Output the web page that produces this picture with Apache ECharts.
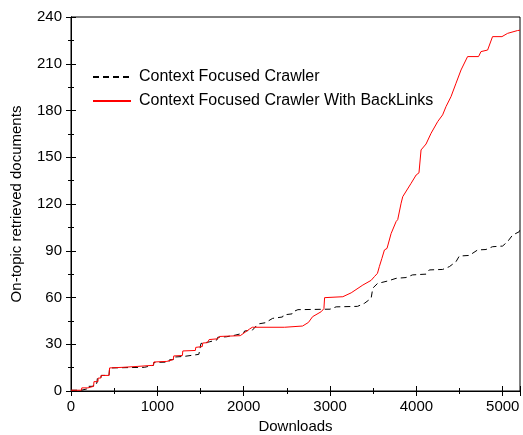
<!DOCTYPE html>
<html><head><meta charset="utf-8">
<script src="https://cdn.jsdelivr.net/npm/echarts@6/dist/echarts.min.js"></script>
<style>html,body{margin:0;padding:0;background:#fff}#c{width:523px;height:435px}</style>
</head><body><div id="c"></div>
<script>
var seriesNames = ['Context Focused Crawler', 'Context Focused Crawler With BackLinks'];
var axisNames = ['Downloads', 'On-topic retrieved documents'];
var baseline = [[0,0.5],[120,0.5],[125,1.5],[197,1.5],[200,3],[258,3],[262,5],[300,5],[305,8],[345,8],[350,10],[440,10],[447,14.8],[850,15.2],[855,16],[955,16.5],[960,18.3],[1135,18.6],[1140,20],[1195,20.2],[1198,21.8],[1310,22.2],[1314,22.8],[1480,23.5],[1487,25.2],[1500,25.5],[1505,30.5],[1600,31.5],[1610,32.3],[1690,32.8],[1700,34.5],[1800,34.8],[1810,35.5],[1900,35.8],[1910,36.8],[2000,37.2],[2010,38.5],[2100,39],[2166,43],[2250,43.8],[2260,44.8],[2335,46.6],[2450,47.5],[2460,48.8],[2560,49.5],[2570,50.8],[2628,52.2],[3000,52.5],[3071,54],[3318,54.3],[3399,56.3],[3476,59.5],[3495,66],[3550,69],[3669,70.6],[3765,72.3],[3880,72.8],[3955,74.5],[4112,75],[4150,77.7],[4304,78],[4382,79.8],[4459,83],[4497,86.6],[4613,87],[4709,90.5],[4806,90.8],[4882,92.6],[4998,93],[5056,95.8],[5113,100],[5191,102.2],[5200,104]];
var backlinks = [[0,0.5],[120,0.5],[125,2],[197,2],[200,3],[262,3],[266,6],[312,6],[315,8.3],[345,8.3],[350,10],[440,10],[447,14.8],[600,15.2],[605,15.6],[775,15.8],[780,16.3],[955,16.5],[960,18.6],[1110,19],[1120,20],[1185,20.2],[1190,22.5],[1290,22.8],[1295,25.7],[1440,26],[1445,28],[1520,28.5],[1526,30.8],[1580,31],[1600,33],[1700,33.5],[1719,35],[1960,35.5],[2069,39.8],[2100,40.9],[2474,40.9],[2480,41.7],[2682,41.7],[2750,44],[2798,47.7],[2898,50.9],[2929,52.9],[2937,59.9],[3148,60.5],[3245,63],[3380,68],[3476,71],[3514,73.4],[3549,75.5],[3572,80],[3600,85],[3630,90.5],[3660,91.5],[3707,101],[3765,108.7],[3784,110],[3823,120.5],[3842,124.7],[3939,133.3],[3997,138.6],[4030,140],[4054,154.7],[4112,158.5],[4170,165.4],[4247,172.9],[4304,177.2],[4343,182.5],[4401,188.9],[4459,197.5],[4517,206],[4593,214.6],[4720,214.6],[4748,217.8],[4825,218.8],[4882,227.4],[4991,227.4],[5056,229.5],[5171,231.3],[5200,231.5]];

var font = 'Liberation Sans, Arial, sans-serif';
var tick = {show: true, inside: true, length: 5, lineStyle: {color: '#000', width: 1}};
var minor = {show: true, splitNumber: 2, length: 3, lineStyle: {color: '#000', width: 1}};
function plain(v) { return String(v); }
function xAx(pos, labels) {
  return {type: 'value', position: pos, min: 0, max: 5200, interval: 1000,
    axisLine: {show: true, lineStyle: {color: '#000', width: 1}},
    splitLine: {show: false}, axisTick: tick, minorTick: minor,
    axisLabel: {show: true, color: labels ? '#000' : 'rgba(0,0,0,0)', fontFamily: font, fontSize: 15,
      margin: 8, showMaxLabel: false, formatter: plain},
    name: labels ? axisNames[0] : '', nameLocation: 'middle', nameGap: 28,
    nameTextStyle: {color: '#000', fontFamily: font, fontSize: 15}};
}
function yAx(pos, labels) {
  return {type: 'value', position: pos, min: 0, max: 240, interval: 30,
    axisLine: {show: true, lineStyle: {color: '#000', width: 1}},
    splitLine: {show: false}, axisTick: tick, minorTick: minor,
    axisLabel: {show: true, color: labels ? '#000' : 'rgba(0,0,0,0)', fontFamily: font, fontSize: 15,
      margin: 9, formatter: plain},
    name: labels ? axisNames[1] : '', nameLocation: 'middle', nameGap: 47,
    nameTextStyle: {color: '#000', fontFamily: font, fontSize: 15}};
}
var chart = echarts.init(document.getElementById('c'), null, {renderer: 'canvas'});
chart.setOption({
  animation: false,
  backgroundColor: '#fff',
  grid: {left: 71, right: 3, top: 17, bottom: 44, containLabel: false, outerBoundsMode: 'none',
    show: true, borderColor: '#000', borderWidth: 1, backgroundColor: 'rgba(0,0,0,0)'},
  xAxis: [xAx('bottom', true), xAx('top', false)],
  yAxis: [yAx('left', true), yAx('right', false)],
  legend: {show: true, orient: 'vertical', left: 87, top: 64, itemWidth: 38, itemHeight: 12, itemGap: 8,
    itemStyle: {opacity: 0},
    textStyle: {color: '#000', fontFamily: font, fontSize: 16, padding: [0, 0, 0, 3]},
    data: seriesNames},
  series: [
    {name: seriesNames[0], type: 'line', data: baseline, showSymbol: false, symbol: 'none',
      lineStyle: {color: '#000', width: 1, type: [6, 4]}, itemStyle: {color: '#000'}},
    {name: seriesNames[1], type: 'line', data: backlinks, showSymbol: false, symbol: 'none',
      lineStyle: {color: '#ff0000', width: 1}, itemStyle: {color: '#ff0000'}},
    {type: 'line', data: [], xAxisIndex: 1, yAxisIndex: 1}
  ]
});
</script></body></html>
